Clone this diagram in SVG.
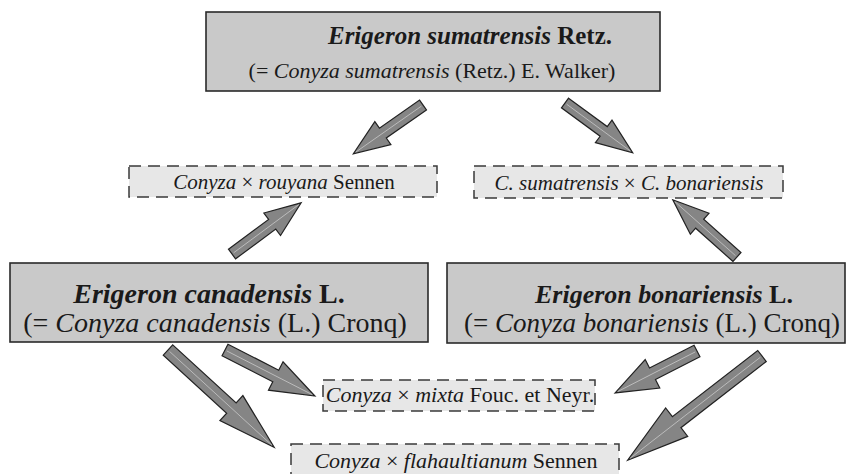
<svg xmlns="http://www.w3.org/2000/svg" width="856" height="474" viewBox="0 0 856 474">
<style>
.solid{fill:#c9c9c9;stroke:#2a2a2a;stroke-width:1.6}
.dash{fill:#e7e7e7;stroke:#3a3a3a;stroke-width:1.5;stroke-dasharray:12 7}
text{font-family:"Liberation Serif","Times New Roman",serif;fill:#1a1a1a;text-anchor:middle}
.i{font-style:italic}
.b{font-weight:bold}
.arr polygon{fill:#858585;stroke:#222;stroke-width:1.2;stroke-linejoin:miter}
.arr line{stroke:#d8d8d8;stroke-width:0.6}
</style>
<rect width="856" height="474" fill="#fff"/>
<g id="connectors" class="arr">
  <g transform="translate(423,105) rotate(145)"><polygon points="0,-6 49,-6 49,-14 85,0 49,14 49,6 0,6"/><line x1="2" y1="0" x2="82" y2="0"/></g>
  <g transform="translate(565,103) rotate(36.3)"><polygon points="0,-6 48,-6 48,-14 84,0 48,14 48,6 0,6"/><line x1="2" y1="0" x2="81" y2="0"/></g>
  <g transform="translate(232,254) rotate(-36.5)"><polygon points="0,-6 50,-6 50,-14 86,0 50,14 50,6 0,6"/><line x1="2" y1="0" x2="83" y2="0"/></g>
  <g transform="translate(737,257) rotate(-138.3)"><polygon points="0,-6 50,-6 50,-14 86,0 50,14 50,6 0,6"/><line x1="2" y1="0" x2="83" y2="0"/></g>
  <g transform="translate(225,350) rotate(27.1)"><polygon points="0,-6.5 57,-6.5 57,-16 101,0 57,16 57,6.5 0,6.5"/><line x1="2" y1="0" x2="98" y2="0"/></g>
  <g transform="translate(168,350) rotate(42.5)"><polygon points="0,-7 86,-7 86,-17 144,0 86,17 86,7 0,7"/><line x1="2" y1="0" x2="141" y2="0"/></g>
  <g transform="translate(697,351) rotate(152.9)"><polygon points="0,-6.5 50,-6.5 50,-16 92,0 50,16 50,6.5 0,6.5"/><line x1="2" y1="0" x2="89" y2="0"/></g>
  <g transform="translate(762,356) rotate(142.2)"><polygon points="0,-7 108,-7 108,-18 170,0 108,18 108,7 0,7"/><line x1="2" y1="0" x2="167" y2="0"/></g>
</g>
<g id="sumatrensis">
  <rect class="solid" x="206" y="12" width="454" height="79"/>
  <text x="470" y="44" font-size="25" class="b"><tspan class="i">Erigeron sumatrensis</tspan> Retz.</text>
  <text x="432" y="78" font-size="22">(= <tspan class="i">Conyza sumatrensis</tspan> (Retz.) E. Walker)</text>
</g>
<g id="rouyana">
  <rect class="dash" x="129" y="166" width="308" height="31"/>
  <text x="284" y="189" font-size="21"><tspan class="i">Conyza</tspan> × <tspan class="i">rouyana</tspan> Sennen</text>
</g>
<g id="sumatrensis-bonariensis">
  <rect class="dash" x="474" y="166" width="309" height="32"/>
  <text x="629" y="190" font-size="21"><tspan class="i">C. sumatrensis</tspan> × <tspan class="i">C. bonariensis</tspan></text>
</g>
<g id="canadensis">
  <rect class="solid" x="10" y="263" width="418" height="79"/>
  <text x="209" y="303" font-size="28" class="b"><tspan class="i">Erigeron canadensis</tspan> L.</text>
  <text x="215" y="332" font-size="28">(= <tspan class="i">Conyza canadensis</tspan> (L.) Cronq)</text>
</g>
<g id="bonariensis">
  <rect class="solid" x="447" y="263" width="398" height="80"/>
  <text x="664" y="303" font-size="26" class="b"><tspan class="i">Erigeron bonariensis</tspan> L.</text>
  <text x="652" y="332" font-size="27">(= <tspan class="i">Conyza bonariensis</tspan> (L.) Cronq)</text>
</g>
<g id="mixta">
  <rect class="dash" x="323" y="380" width="272" height="31"/>
  <text x="460" y="402" font-size="22"><tspan class="i">Conyza</tspan> × <tspan class="i">mixta</tspan> Fouc. et Neyr.</text>
</g>
<g id="flahaultianum">
  <rect class="dash" x="291" y="444" width="328" height="34"/>
  <text x="456" y="468" font-size="22"><tspan class="i">Conyza</tspan> × <tspan class="i">flahaultianum</tspan> Sennen</text>
</g>
</svg>
